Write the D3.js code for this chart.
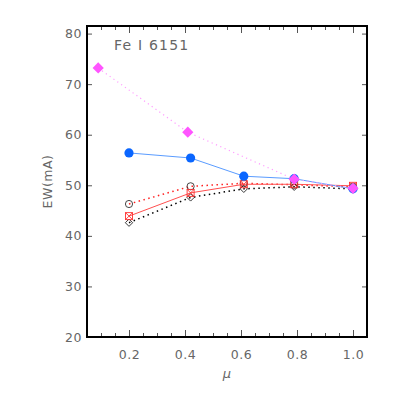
<!DOCTYPE html>
<html>
<head>
<meta charset="utf-8">
<script src="https://cdn.jsdelivr.net/npm/d3@7"></script>
<style>
body { margin: 0; background: #fff; }
text { font-family: "DejaVu Sans", sans-serif; fill: #666; }
</style>
</head>
<body>
<svg id="chart" width="393" height="393"></svg>
<script>
// mu positions
var muMain = [0.2, 0.42, 0.61, 0.79, 1.0];
var muPink = [0.09, 0.41, 0.79, 1.0];

// EW values
var ewBlue = [56.4, 55.4, 51.8, 51.3, 49.3];
var ewPink = [73.2, 60.5, 51.2, 49.4];
var ewCircle = [46.3, 49.8, 50.4, 50.1, 49.7];
var ewRed = [43.9, 48.5, 50.2, 50.2, 49.9];
var ewDiamond = [42.6, 47.6, 49.3, 49.7, 49.3];

var xTicks = [0.2, 0.4, 0.6, 0.8, 1.0];
var yTicks = [20, 30, 40, 50, 60, 70, 80];

// plot box (window.top is reserved, so keep these in an object)
var box = {left: 87, right: 367, top: 26, bottom: 337};

var x = d3.scaleLinear().domain([0.05, 1.05]).range([box.left, box.right]);
var y = d3.scaleLinear().domain([20, 81.5]).range([box.bottom, box.top]);

var svg = d3.select("#chart");
var g = svg.append("g");

var minor = d3.range(0.1, 1.05, 0.05).map(function(d) { return +d.toFixed(2); });

function plainTicks(s) {
    s.select(".domain").remove();
    s.selectAll("line").attr("stroke", "#555");
}

function labelStyle(s) {
    s.selectAll("text").attr("font-size", 12.5).attr("font-family", "DejaVu Sans")
        .attr("fill", "#666").attr("letter-spacing", 0.5);
}

// frame ticks
g.append("g").attr("transform", "translate(0," + box.bottom + ")")
    .call(d3.axisBottom(x).tickValues(minor).tickSize(-4).tickFormat(""))
    .call(plainTicks);
g.append("g").attr("transform", "translate(0," + box.top + ")")
    .call(d3.axisTop(x).tickValues(minor).tickSize(-4).tickFormat(""))
    .call(plainTicks);
g.append("g").attr("transform", "translate(0," + box.bottom + ")")
    .call(d3.axisBottom(x).tickValues(xTicks).tickSize(-7).tickPadding(13).tickFormat(d3.format(".1f")))
    .call(plainTicks).call(labelStyle);
g.append("g").attr("transform", "translate(0," + box.top + ")")
    .call(d3.axisTop(x).tickValues(xTicks).tickSize(-7).tickFormat(""))
    .call(plainTicks);

g.append("g").attr("transform", "translate(" + box.left + ",0)")
    .call(d3.axisLeft(y).tickValues(yTicks).tickSize(-5).tickPadding(5).tickFormat(d3.format("d")))
    .call(plainTicks).call(labelStyle);
g.append("g").attr("transform", "translate(" + box.right + ",0)")
    .call(d3.axisRight(y).tickValues(yTicks).tickSize(-5).tickFormat(""))
    .call(plainTicks);

g.append("rect")
    .attr("x", box.left).attr("y", box.top)
    .attr("width", box.right - box.left).attr("height", box.bottom - box.top)
    .attr("fill", "none").attr("stroke", "#000").attr("stroke-width", 2);

function pts(xs, ys) {
    return xs.map(function(d, i) { return [d, ys[i]]; });
}

var line = d3.line().x(function(d) { return x(d[0]); }).y(function(d) { return y(d[1]); });

// lines
g.append("path").datum(pts(muMain, ewDiamond)).attr("d", line)
    .attr("fill", "none").attr("stroke", "#000").attr("stroke-width", 1.5).attr("stroke-dasharray", "1.5,3.5");
g.append("path").datum(pts(muMain, ewCircle)).attr("d", line)
    .attr("fill", "none").attr("stroke", "#ff2020").attr("stroke-width", 1.5).attr("stroke-dasharray", "1.5,3.5");
g.append("path").datum(pts(muMain, ewRed)).attr("d", line)
    .attr("fill", "none").attr("stroke", "#ff5050").attr("stroke-width", 1);
g.append("path").datum(pts(muMain, ewBlue)).attr("d", line)
    .attr("fill", "none").attr("stroke", "#5a9cff").attr("stroke-width", 1);
g.append("path").datum(pts(muPink, ewPink)).attr("d", line)
    .attr("fill", "none").attr("stroke", "#ff9cff").attr("stroke-width", 1.2).attr("stroke-dasharray", "1.2,3.5");

// open circles
g.selectAll("circle.open").data(pts(muMain, ewCircle)).enter().append("circle")
    .attr("class", "open")
    .attr("cx", function(d) { return x(d[0]); }).attr("cy", function(d) { return y(d[1]); })
    .attr("r", 3.6).attr("fill", "none").attr("stroke", "#333").attr("stroke-width", 0.9);

// open diamonds
var diamond = d3.symbol().type(d3.symbolDiamond2).size(34);
g.selectAll("path.dia").data(pts(muMain, ewDiamond)).enter().append("path")
    .attr("class", "dia")
    .attr("transform", function(d) { return "translate(" + x(d[0]) + "," + y(d[1]) + ")"; })
    .attr("d", diamond).attr("fill", "none").attr("stroke", "#222").attr("stroke-width", 0.9);

// red boxed crosses
var red = g.selectAll("g.red").data(pts(muMain, ewRed)).enter().append("g")
    .attr("class", "red")
    .attr("transform", function(d) { return "translate(" + x(d[0]) + "," + y(d[1]) + ")"; });
red.append("rect").attr("x", -3.5).attr("y", -3.5).attr("width", 7).attr("height", 7)
    .attr("fill", "none").attr("stroke", "#ff3030").attr("stroke-width", 0.9);
red.append("path").attr("d", "M-3.5,-3.5L3.5,3.5M-3.5,3.5L3.5,-3.5")
    .attr("stroke", "#ff3030").attr("stroke-width", 0.9);

// filled blue circles
g.selectAll("circle.blue").data(pts(muMain, ewBlue)).enter().append("circle")
    .attr("class", "blue")
    .attr("cx", function(d) { return x(d[0]); }).attr("cy", function(d) { return y(d[1]); })
    .attr("r", 4.6).attr("fill", "#0a66ff");

// filled pink diamonds
var bigDia = d3.symbol().type(d3.symbolDiamond2).size(80);
g.selectAll("path.pink").data(pts(muPink, ewPink)).enter().append("path")
    .attr("class", "pink")
    .attr("transform", function(d) { return "translate(" + x(d[0]) + "," + y(d[1]) + ")"; })
    .attr("d", bigDia).attr("fill", "#ff55ff");

// labels
svg.append("text").attr("x", 114).attr("y", 50).attr("font-size", 14)
    .attr("letter-spacing", 1.2).text("Fe I 6151");
svg.append("text").attr("transform", "translate(52," + ((box.top + box.bottom) / 2) + ") rotate(-90)")
    .attr("text-anchor", "middle").attr("font-size", 12.5).attr("letter-spacing", 0.5).text("EW(mA)");
svg.append("text").attr("x", (box.left + box.right) / 2).attr("y", 378)
    .attr("text-anchor", "middle").attr("font-size", 13).attr("font-style", "italic").text("μ");
</script>
</body>
</html>
